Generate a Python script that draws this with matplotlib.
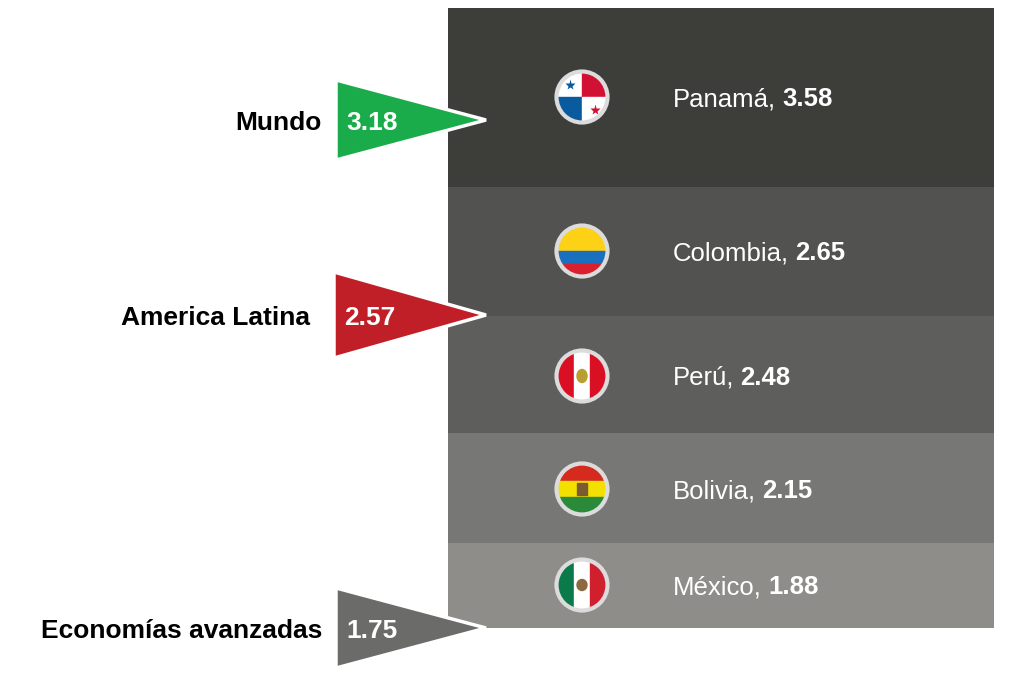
import matplotlib
matplotlib.use("Agg")
import matplotlib.pyplot as plt
from matplotlib.patches import Circle, Rectangle, Polygon, Ellipse

plt.rcParams['font.family'] = ['Liberation Sans', 'DejaVu Sans']

# data
countries = ["Panamá", "Colombia", "Perú", "Bolivia", "México"]
country_values = [3.58, 2.65, 2.48, 2.15, 1.88]
band_colors = ["#3d3d3a", "#525250", "#5e5f5d", "#777775", "#8e8d89"]

regions = ["Mundo", "America Latina", "Economías avanzadas"]
region_values = [3.18, 2.57, 1.75]
region_colors = ["#1aab4b", "#c01f28", "#6b6b6a"]

# layout (pixel coords, y downwards)
band_edges = [8, 187, 316, 433, 543, 628]
col_left, col_right = 448, 994
flag_x = 582
flag_y = [97, 251, 376, 489, 585]
flag_r = 25
pointer_y = [120, 315, 628]
pointer_half = [40, 43, 40]
pointer_left = [336, 334, 336]
tip_x = 486
label_right = [322, 310, 322]

fig = plt.figure(figsize=(10.24, 6.8), dpi=100)
ax = fig.add_axes([0, 0, 1, 1])
ax.set_xlim(0, 1024)
ax.set_ylim(680, 0)
ax.axis('off')

tops = band_edges[:-1]
heights = [band_edges[i + 1] - band_edges[i] for i in range(len(tops))]
ax.bar([(col_left + col_right) / 2] * len(tops), heights, bottom=tops,
       width=col_right - col_left, color=band_colors, zorder=1)


def flag(ax, name, cx, cy, r):
    clip = Circle((cx, cy), r, transform=ax.transData)
    parts = []
    d = 2 * r
    x0, y0 = cx - r, cy - r
    if name == "Panamá":
        parts = [Rectangle((x0, y0), r, r, color="white"),
                 Rectangle((cx, y0), r, r, color="#d21034"),
                 Rectangle((x0, cy), r, r, color="#0a5aa0"),
                 Rectangle((cx, cy), r, r, color="white")]
    elif name == "Colombia":
        parts = [Rectangle((x0, y0), d, r, color="#fcd116"),
                 Rectangle((x0, cy), d, r / 2, color="#1a6fbf"),
                 Rectangle((x0, cy + r / 2), d, r / 2, color="#d9202e")]
    elif name == "Perú":
        parts = [Rectangle((x0, y0), d / 3, d, color="#d91023"),
                 Rectangle((x0 + d / 3, y0), d / 3, d, color="white"),
                 Rectangle((x0 + 2 * d / 3, y0), d / 3, d, color="#d91023"),
                 Ellipse((cx, cy), 10, 13, color="#b8a030")]
    elif name == "Bolivia":
        parts = [Rectangle((x0, y0), d, d / 3, color="#d52b1e"),
                 Rectangle((x0, y0 + d / 3), d, d / 3, color="#f4e000"),
                 Rectangle((x0, y0 + 2 * d / 3), d, d / 3, color="#2a8a3a"),
                 Rectangle((cx - 5, cy - 6), 10, 12, color="#7a5a30")]
    elif name == "México":
        parts = [Rectangle((x0, y0), d / 3, d, color="#0a7a4a"),
                 Rectangle((x0 + d / 3, y0), d / 3, d, color="white"),
                 Rectangle((x0 + 2 * d / 3, y0), d / 3, d, color="#d0202e"),
                 Ellipse((cx, cy), 10, 11, color="#8a6a40")]
    for p in parts:
        p.set_zorder(3)
        ax.add_patch(p)
        p.set_clip_path(clip)
    if name == "Panamá":
        ax.plot(cx - r / 2, cy - r / 2, marker='*', ms=8, color="#0a5aa0", mec="none", zorder=4)
        ax.plot(cx + r / 2, cy + r / 2, marker='*', ms=8, color="#d21034", mec="none", zorder=4)
    ax.add_patch(Circle((cx, cy), r + 0.5, fill=False, ec="#dcdcdc", lw=3, zorder=5))


renderer = fig.canvas.get_renderer()
for i, name in enumerate(countries):
    flag(ax, name, flag_x, flag_y[i], flag_r)
    ty = flag_y[i] + 9
    t = ax.text(673, ty, name + ",", color="white", fontsize=18.5,
                ha='left', va='baseline', zorder=6)
    bb = t.get_window_extent(renderer=renderer)
    x_end = ax.transData.inverted().transform((bb.x1, bb.y0))[0]
    ax.text(x_end + 6, ty, f"{country_values[i]:.2f}", color="white",
            fontsize=18.5, fontweight='bold', ha='left', va='baseline', zorder=6)

for i, reg in enumerate(regions):
    y = pointer_y[i]
    h = pointer_half[i]
    tri = Polygon([(pointer_left[i], y - h), (pointer_left[i], y + h), (tip_x, y)],
                  closed=True, fc=region_colors[i], ec="white", lw=2.5,
                  joinstyle='miter', zorder=7)
    ax.add_patch(tri)
    ax.text(pointer_left[i] + 10, y + 10, f"{region_values[i]:.2f}", color="white",
            fontsize=19, fontweight='bold', ha='left', va='baseline', zorder=8)
    ax.text(label_right[i], y + 10, reg, color="black", fontsize=19,
            fontweight='bold', ha='right', va='baseline', zorder=8)

fig.savefig("out.png", dpi=100, facecolor="white")
